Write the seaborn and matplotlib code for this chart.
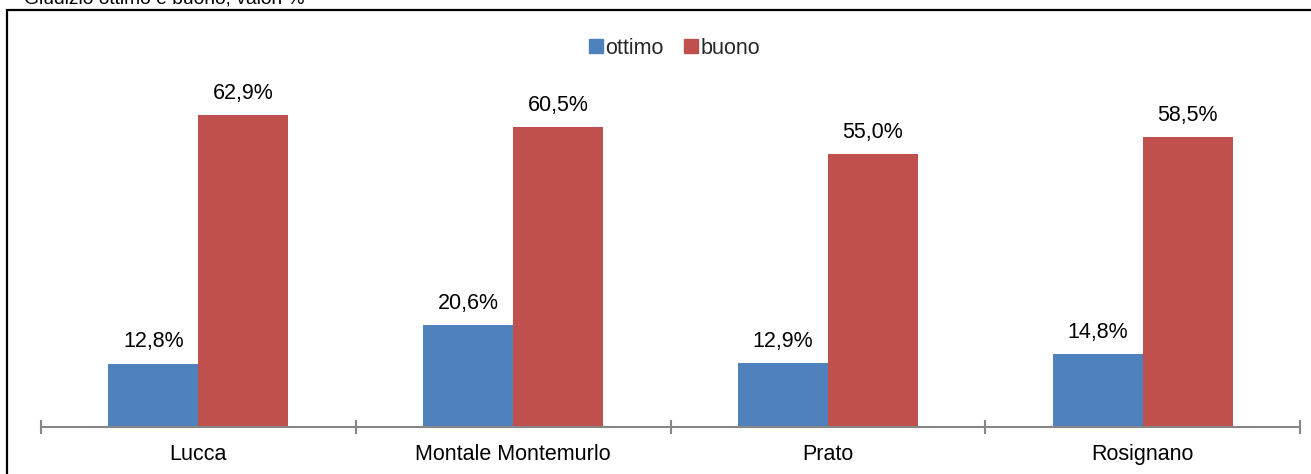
import numpy as np
import pandas as pd
import matplotlib
matplotlib.use("Agg")
import matplotlib.pyplot as plt
from matplotlib.patches import Rectangle
from matplotlib.ticker import FixedLocator
import seaborn as sns

# Data: share of "ottimo" and "buono" ratings per site (%)
categories = ["Lucca", "Montale Montemurlo", "Prato", "Rosignano"]
ottimo = [12.8, 20.6, 12.9, 14.8]
buono = [62.9, 60.5, 55.0, 58.5]
series = ["ottimo", "buono"]
title = "Giudizio ottimo e buono, valori %"

df = pd.DataFrame({
    "sito": categories * 2,
    "giudizio": ["ottimo"] * len(categories) + ["buono"] * len(categories),
    "valore": ottimo + buono,
})

sns.set_theme(style="white")
plt.rcParams["font.family"] = ["Liberation Sans", "DejaVu Sans"]

colors = {"ottimo": "#4F81BD", "buono": "#C0504D"}
fs = 15.5

fig = plt.figure(figsize=(13.11, 4.74), dpi=100)
ax = fig.add_axes([41 / 1311, 47 / 474, 1259 / 1311, 347 / 474])

sns.barplot(data=df, x="sito", y="valore", hue="giudizio", hue_order=series,
            order=categories, palette=colors, width=0.572, gap=0,
            saturation=1, edgecolor="none", ax=ax, legend=False)

# value labels above each bar
for cont in ax.containers:
    labels = [f"{v:.1f}%".replace(".", ",") for v in cont.datavalues]
    ax.bar_label(cont, labels=labels, padding=8, fontsize=fs, color="#000000")

ax.set_ylim(0, 70)
ax.set_xlim(-0.5, len(categories) - 0.5)
ax.set_xlabel("")
ax.set_ylabel("")
ax.set_yticks([])

for s in ["top", "right", "left"]:
    ax.spines[s].set_visible(False)
ax.spines["bottom"].set_color("#868686")
ax.spines["bottom"].set_linewidth(1.5)

ax.tick_params(axis="x", which="major", bottom=True, length=0, pad=12,
               labelsize=fs, labelcolor="#000000")
ax.xaxis.set_minor_locator(FixedLocator(np.arange(-0.5, len(categories), 1.0)))
ax.tick_params(axis="x", which="minor", bottom=True, direction="inout",
               length=10, width=1.5, color="#868686")

# legend with square markers
handles = [plt.Line2D([], [], marker="s", linestyle="none", markersize=10,
                      color=colors[s]) for s in series]
fig.legend(handles, series, loc="center", bbox_to_anchor=(674 / 1311, 1 - 48 / 474),
           ncol=2, frameon=False, fontsize=fs, handletextpad=0.1,
           columnspacing=0.9, handlelength=0.7)

# chart frame and clipped heading
fig.add_artist(Rectangle((7 / 1311, -0.1), 1.2, 1 - 10 / 474 + 0.1,
                         transform=fig.transFigure, fill=False,
                         edgecolor="#000000", linewidth=1.6))
fig.text(24 / 1311, 1 - 4 / 474, title, fontsize=13.9, va="baseline",
         ha="left", color="#000000")

fig.savefig("out.png", dpi=100)
